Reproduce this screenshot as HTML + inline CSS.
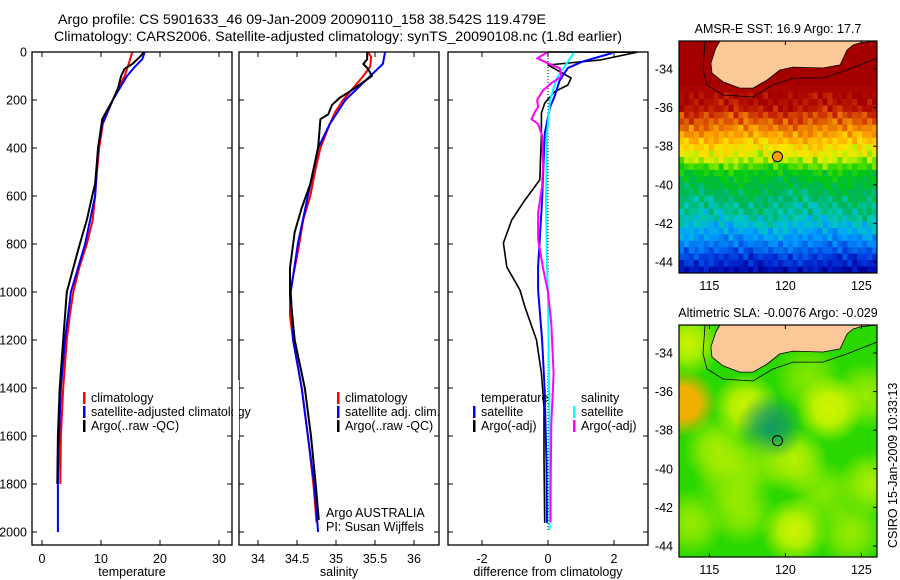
<!DOCTYPE html>
<html><head><meta charset="utf-8">
<style>
html,body{margin:0;padding:0;background:#fff;}
svg{display:block;font-family:"Liberation Sans",sans-serif;}
</style></head>
<body>
<svg id="fig" width="900" height="580" viewBox="0 0 900 580" xmlns="http://www.w3.org/2000/svg">
<rect width="900" height="580" fill="#fff"/>
<text x="58" y="24" font-size="14" textLength="488" lengthAdjust="spacingAndGlyphs">Argo profile: CS 5901633_46 09-Jan-2009 20090110_158 38.542S 119.479E</text>
<text x="54" y="41" font-size="14" textLength="568" lengthAdjust="spacingAndGlyphs">Climatology: CARS2006. Satellite-adjusted climatology: synTS_20090108.nc (1.8d earlier)</text>
<g id="g1"></g>
<g id="g2"></g>
<g id="g3"></g>
<g id="m1"></g>
<g id="m2"></g>
<text transform="translate(897,548) rotate(-90)" font-size="12.5">CSIRO 15-Jan-2009 10:33:13</text>
</svg>
<script>
// ---------- data ----------
const tClimDepth=[0,50,100,200,300,400,500,600,700,800,900,1000,1100,1200,1400,1600,1800];
const tClim=[15.3,14.7,14.0,12.0,10.3,9.7,9.3,9.0,8.6,7.6,6.3,5.3,4.7,4.2,3.6,3.2,3.1];
const tSatDepth=[0,30,60,100,200,300,400,600,800,1000,1200,1400,1600,1800,2000];
const tSat=[17.4,17.0,15.8,14.4,12.0,10.2,9.5,9.0,7.3,4.9,3.9,3.2,2.9,2.7,2.7];
const tArgoDepth=[0,20,50,70,100,150,200,280,400,550,600,700,800,900,1000,1200,1400,1600,1800];
const tArgo=[17.3,16.6,15.3,14.0,13.4,12.9,12.0,10.2,9.5,9.0,8.5,7.6,6.4,5.3,4.2,3.6,3.0,2.7,2.6];

const sClimDepth=[0,20,60,100,150,200,250,300,400,500,600,700,800,900,1000,1100,1200,1400,1600,1800,1960];
const sClim=[35.41,35.45,35.44,35.35,35.22,35.09,34.99,34.92,34.80,34.73,34.67,34.58,34.53,34.47,34.41,34.41,34.45,34.56,34.64,34.71,34.75];
const sSatDepth=[0,50,100,150,200,300,400,600,800,1000,1200,1400,1600,1800,2000];
const sSat=[35.63,35.60,35.44,35.28,35.12,34.92,34.77,34.64,34.51,34.42,34.45,34.56,34.64,34.72,34.77];
const sArgoDepth=[0,30,50,70,100,130,170,190,220,260,280,400,550,650,750,900,1000,1200,1400,1600,1800,1950];
const sArgo=[35.40,35.40,35.35,35.41,35.46,35.33,35.15,35.05,34.95,34.90,34.80,34.77,34.67,34.56,34.47,34.41,34.41,34.47,34.60,34.68,34.74,34.78];

const dTArgoDepth=[0,1,33,54,108,138,165,213,255,340,533,617,700,796,896,992,1062,1200,1338,1479,1687,1962];
const dTArgo=[0,2.7,1.6,0,0.7,0.6,0.2,-0.1,-0.2,-0.2,-0.25,-0.7,-1.1,-1.35,-1.25,-0.85,-0.7,-0.35,-0.2,-0.12,-0.12,-0.1];
const dTSatDepth=[4,40,67,120,185,230,340,617,896,992,1200,1410,1700,1962];
const dTSat=[1.95,1.05,0.6,0.35,0.2,0.06,-0.1,-0.18,-0.3,-0.3,-0.18,-0.1,-0.05,-0.03];
const dSSatDepth=[0,60,110,200,340,617,896,1000,1500,1990];
const dSSat=[0.8,0.5,0.26,0.06,-0.03,-0.06,-0.03,0.0,0.04,0.05];
const dSArgoDepth=[0,26,47,68,103,130,160,200,230,250,280,300,350,470,560,670,780,900,1000,1130,1340,1550,1830,1960];
const dSArgo=[0,-0.33,0,0.36,0.4,0.1,-0.15,-0.33,-0.3,-0.4,-0.5,-0.3,-0.18,-0.15,-0.18,-0.3,-0.3,-0.15,0,0.1,0.17,0.1,0.08,0.08];

const depthTicks=[0,200,400,600,800,1000,1200,1400,1600,1800,2000];
const tTicks=[0,10,20,30];
const sTicks=[34,34.5,35,35.5,36];
const sTickLabels=["34","34.5","35","35.5","36"];
const dTicks=[-2,0,2];

// SST by latitude row (deg C), 36 rows from north to south
const sstRows=[22.2,22.2,22.2,22.2,22.2,22.2,22.2,22.1,22.0,21.9,21.7,21.2,20.9,20.5,20.1,19.7,19.3,19.0,18.6,18.0,17.4,17.1,16.9,16.7,16.5,16.3,16.2,16.0,15.7,15.4,15.1,14.7,14.3,13.8,13.5,13.0];
// small per-cell offsets (deg C), 40 entries, indexed scrambled by row/column
const sstColOff=[0.4,0.1,-0.3,0.0,0.5,0.2,-0.2,-0.5,0.0,0.3,0.6,0.1,-0.3,-0.6,-0.1,0.3,0.4,0.0,-0.3,0.1,0.4,0.2,-0.2,-0.4,0.0,0.3,0.1,-0.3,-0.1,0.3,0.5,0.2,0.0,-0.3,-0.5,0.0,0.3,0.1,-0.2,0.0];
const sstMin=12.6, sstMax=22.2;

// SLA anomaly blobs
const blobLon=[113.3,113.6,117.4,122.9,120.6,120.6,115.5,125.6,117.1,124.3,119.0,113.8,116.2,122.5,118.0,125.3,121.5];
const blobLat=[-36.6,-33.5,-36.8,-36.9,-39.6,-43.2,-39.0,-40.8,-42.2,-43.3,-37.8,-42.8,-40.6,-41.3,-39.8,-36.2,-35.3];
const blobSLA=[0.14,0.09,0.10,0.11,0.08,0.10,0.07,0.07,0.06,0.06,-0.08,0.06,0.05,0.05,0.05,0.06,0.05];

const coastLon=[115.7,115.43,115.1,115.17,115.9,117.0,117.87,118.8,119.64,120.5,122.47,123.6,124.05,124.45,124.9,126.03];
const coastLat=[-32.55,-32.91,-33.69,-34.21,-34.67,-34.99,-34.99,-34.57,-34.05,-33.9,-33.95,-33.79,-33.02,-32.76,-32.65,-32.55];
const isoLon=[114.71,114.58,114.84,115.9,117.87,119.18,120.5,122.47,124.05,126.03];
const isoLat=[-32.55,-34.05,-34.83,-35.35,-35.45,-34.83,-34.47,-34.47,-34.05,-33.43];
const floatLon=119.479, floatLat=-38.542;
const lonTicks=[115,120,125];
const latTicks=[-34,-36,-38,-40,-42,-44];

// ---------- helpers ----------
const NS="http://www.w3.org/2000/svg";
function mk(tag,attrs,parent){const e=document.createElementNS(NS,tag);for(const k in attrs)e.setAttribute(k,attrs[k]);parent.appendChild(e);return e;}
const PT=52, PB=545;
const yD=d=>PT+0.24*d;

function panel(g,x0,x1,xs,ticks,labels,title,name){
  const r=mk('rect',{x:x0,y:PT,width:x1-x0,height:PB-PT,fill:'none',stroke:'#000','stroke-width':1.3},g);
  
  
  ticks.forEach((t,i)=>{const x=xs(t);
    mk('line',{x1:x,x2:x,y1:PB,y2:PB-5,stroke:'#000'},g);
    mk('line',{x1:x,x2:x,y1:PT,y2:PT+5,stroke:'#000'},g);
    const tx=mk('text',{x:x,y:563,'font-size':12.5,'text-anchor':'middle'},g);tx.textContent=labels[i];
    
    
  });
  depthTicks.forEach(d=>{const y=yD(d);
    mk('line',{x1:x0,x2:x0+5,y1:y,y2:y,stroke:'#000'},g);
    mk('line',{x1:x1,x2:x1-5,y1:y,y2:y,stroke:'#000'},g);});
  const at=mk('text',{x:(x0+x1)/2,y:576,'font-size':12.5,'text-anchor':'middle'},g);at.textContent=title;
  
  
}
function line(g,xs,vals,depths,color,w,name){
  const pts=vals.map((v,i)=>xs(v).toFixed(1)+','+yD(depths[i]).toFixed(1)).join(' ');
  const p=mk('polyline',{points:pts,fill:'none',stroke:color,'stroke-width':w,'stroke-linejoin':'round'},g);
  
  
}
function legend(g,x,y,color,label,name){
  mk('rect',{x:x,y:y-10,width:2.5,height:12,fill:color},g);
  const t=mk('text',{x:x+8,y:y,'font-size':12.5},g);t.textContent=label;
  
  
}
function text(g,x,y,s,name,anchor){const t=mk('text',{x:x,y:y,'font-size':12.5,'text-anchor':anchor||'start'},g);t.textContent=s;
  
  return t;}

const svg=document.getElementById('fig');
depthTicks.forEach(d=>{const t=mk('text',{x:27,y:yD(d)+4.5,'font-size':12.5,'text-anchor':'end'},svg);t.textContent=String(d);
  
  });

// panel 1 temperature
const g1=document.getElementById('g1');
const xT=v=>42+5.9*v;
line(g1,xT,tClim,tClimDepth,'#f00',2,'temp-climatology-line');
line(g1,xT,tSat,tSatDepth,'#00f',2,'temp-satellite-line');
line(g1,xT,tArgo,tArgoDepth,'#000',2,'temp-argo-line');
panel(g1,32,232,xT,tTicks,tTicks.map(String),'temperature','temperature');
legend(g1,83,402,'#f00','climatology','legend-climatology');
legend(g1,83,416,'#00f','satellite-adjusted climatology','legend-satellite-adjusted');
legend(g1,83,430,'#000','Argo(..raw -QC)','legend-argo');

// panel 2 salinity
const g2=document.getElementById('g2');
const xS=v=>258+78*(v-34);
line(g2,xS,sClim,sClimDepth,'#f00',2,'sal-climatology-line');
line(g2,xS,sSat,sSatDepth,'#00f',2,'sal-satellite-line');
line(g2,xS,sArgo,sArgoDepth,'#000',2,'sal-argo-line');
mk('rect',{x:233,y:380,width:6,height:60,fill:'#fff'},svg);
panel(g2,239,439,xS,sTicks,sTickLabels,'salinity','salinity');
legend(g2,337,402,'#f00','climatology','legend-sal-climatology');
legend(g2,337,416,'#00f','satellite adj. clim.','legend-sal-satellite');
legend(g2,337,430,'#000','Argo(..raw -QC)','legend-sal-argo');
text(g2,326,517,'Argo AUSTRALIA','argo-australia-label');
text(g2,326,531,'PI: Susan Wijffels','pi-label');

// panel 3 difference
const g3=document.getElementById('g3');
const xDf=v=>548+33*v;
mk('line',{x1:xDf(0),x2:xDf(0),y1:PT,y2:yD(2000),stroke:'#000','stroke-dasharray':'1,2'},g3);
line(g3,xDf,dTArgo,dTArgoDepth,'#000',1.6,'diff-temp-argo-line');
line(g3,xDf,dTSat,dTSatDepth,'#00f',2,'diff-temp-satellite-line');
line(g3,xDf,dSSat,dSSatDepth,'#0ff',2,'diff-sal-satellite-line');
line(g3,xDf,dSArgo,dSArgoDepth,'#f0f',2,'diff-sal-argo-line');
panel(g3,448,648,xDf,dTicks,dTicks.map(String),'difference from climatology','difference');
text(g3,481,402,'temperature','legend-temperature-header');
legend(g3,473,416,'#00f','satellite','legend-diff-temp-satellite');
legend(g3,473,430,'#000','Argo(-adj)','legend-diff-temp-argo');
text(g3,581,402,'salinity','legend-salinity-header');
legend(g3,573,416,'#0ff','satellite','legend-diff-sal-satellite');
legend(g3,573,430,'#f0f','Argo(-adj)','legend-diff-sal-argo');

// ---------- maps ----------
const MX0=679,MX1=877,LON0=113,LAT0=-32.55,PXLON=15.2,PXLAT=19.3;
const CM=[[0,[0,0,150]],[0.1,[0,40,210]],[0.2,[0,110,240]],[0.28,[0,160,255]],[0.35,[0,200,190]],[0.42,[0,180,90]],[0.5,[0,200,20]],[0.58,[80,220,0]],[0.64,[200,240,0]],[0.7,[255,225,0]],[0.77,[255,170,0]],[0.85,[230,110,0]],[0.92,[200,40,0]],[1,[165,0,0]]];
function cmap(x){x=Math.max(0,Math.min(1,x));
  for(let i=1;i<CM.length;i++){if(x<=CM[i][0]){const a=CM[i-1],b=CM[i],t=(x-a[0])/(b[0]-a[0]);
    return 'rgb('+a[1].map((v,k)=>Math.round(v+(b[1][k]-v)*t)).join(',')+')';}}
  return 'rgb(165,0,0)';}
function map(gid,top,title,name,drawField){
  const g=document.getElementById(gid);
  const mxL=lon=>MX0+(lon-LON0)*PXLON, myL=lat=>top+(LAT0-lat)*PXLAT;
  const h=232;
  const cp=mk('clipPath',{id:'cp'+gid},g);mk('rect',{x:MX0,y:top,width:MX1-MX0,height:h},cp);
  const f=mk('g',{'clip-path':'url(#cp'+gid+')'},g);
  drawField(f,mxL,myL,top,h);
  const cs=coastLon.map((l,i)=>mxL(l).toFixed(1)+','+myL(coastLat[i]).toFixed(1)).join(' ');
  const land=mk('polygon',{points:cs+' '+mxL(126.1)+','+myL(-32.5)+' '+mxL(115.6)+','+myL(-32.5),fill:'#fcc898',stroke:'#000','stroke-width':0.8},f);
  
  
  const iso=mk('polyline',{points:isoLon.map((l,i)=>mxL(l).toFixed(1)+','+myL(isoLat[i]).toFixed(1)).join(' '),fill:'none',stroke:'#000','stroke-width':0.8},f);
  
  
  mk('rect',{x:MX0,y:top,width:MX1-MX0,height:h,fill:'none',stroke:'#000','stroke-width':1.2},g);
  lonTicks.forEach(l=>{const x=mxL(l);mk('line',{x1:x,x2:x,y1:top,y2:top+4,stroke:'#000'},g);mk('line',{x1:x,x2:x,y1:top+h,y2:top+h-4,stroke:'#000'},g);
    const t=mk('text',{x:x,y:top+h+17,'font-size':12.5,'text-anchor':'middle'},g);t.textContent=String(l);
    
    });
  latTicks.forEach(l=>{const y=myL(l);mk('line',{x1:MX1,x2:MX1-4,y1:y,y2:y,stroke:'#000'},g);
    const t=mk('text',{x:673,y:y+4.5,'font-size':12.5,'text-anchor':'end'},g);t.textContent=String(l);
    
    });
  const tt=mk('text',{x:(MX0+MX1)/2,y:top-8,'font-size':12.5,'text-anchor':'middle'},g);tt.textContent=title;
  
  
  return {g,mxL,myL};
}
const a=map('m1',41,'AMSR-E SST: 16.9 Argo: 17.7','sst-map',(f,mxL,myL,top,h)=>{
  const nr=sstRows.length,nc=sstColOff.length,cw=(MX1-MX0)/nc,ch=h/nr;
  sstRows.forEach((v,r)=>{sstColOff.forEach((o0,c)=>{
    const o=sstColOff[(c*7+r*13)%nc];
    const val=v+(r>=8?o:0);
    mk('rect',{x:(MX0+c*cw).toFixed(2),y:(top+r*ch).toFixed(2),width:(cw+0.6).toFixed(2),height:(ch+0.6).toFixed(2),fill:cmap((val-sstMin)/(sstMax-sstMin))},f);});});
});
const fm1=mk('circle',{cx:a.mxL(floatLon),cy:a.myL(floatLat),r:5,fill:'#f8a000',stroke:'#000','stroke-width':1},a.g);



const b=map('m2',325,'Altimetric SLA: -0.0076 Argo: -0.029','sla-map',(f,mxL,myL,top,h)=>{
  mk('rect',{x:MX0,y:top,width:MX1-MX0,height:h,fill:'#2ad800'},f);
  const defs=mk('defs',{},f);
  blobSLA.forEach((v,i)=>{
    const id='bl'+i, col=v>0?(v>0.12?'#f0b000':'#d0f400'):'#109070';
    const rg=mk('radialGradient',{id:id},defs);
    mk('stop',{offset:'0%','stop-color':col,'stop-opacity':Math.min(1,Math.abs(v)*11)},rg);
    mk('stop',{offset:'45%','stop-color':col,'stop-opacity':Math.min(1,Math.abs(v)*8)},rg);
    mk('stop',{offset:'100%','stop-color':col,'stop-opacity':0},rg);
    const c=mk('circle',{cx:mxL(blobLon[i]),cy:myL(blobLat[i]),r:34,fill:'url(#'+id+')'},f);
    
    
  });
});
const fm2=mk('circle',{cx:b.mxL(floatLon),cy:b.myL(floatLat),r:5,fill:'none',stroke:'#000','stroke-width':1},b.g);


</script>
</body></html>
